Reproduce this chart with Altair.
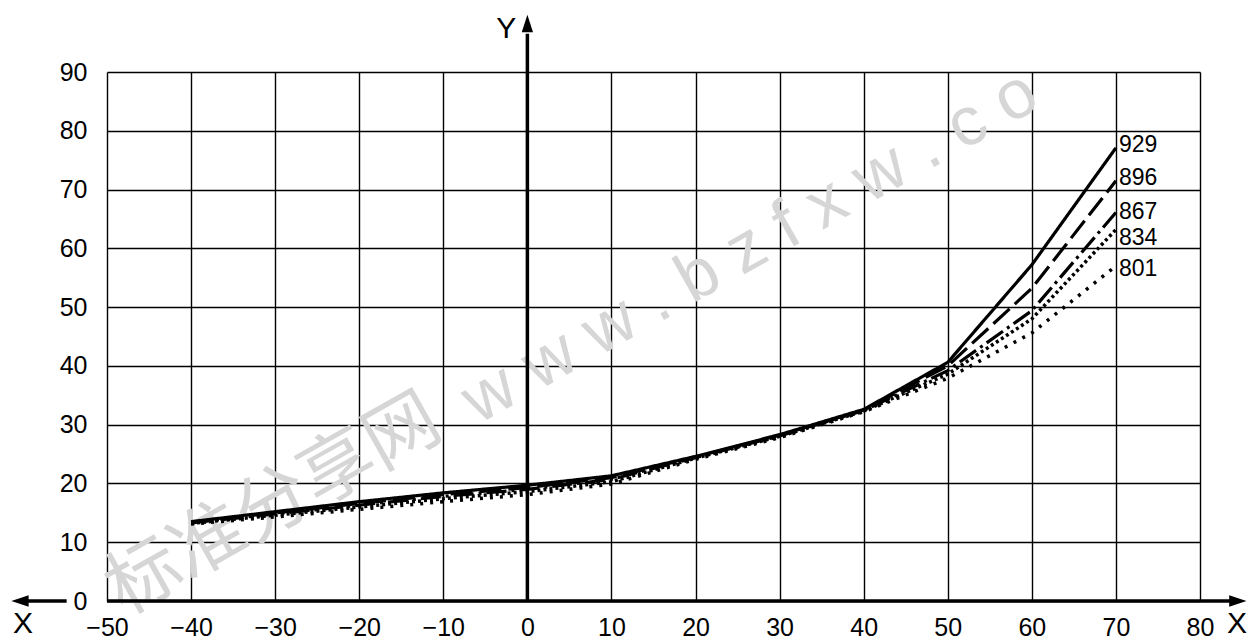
import altair as alt
import pandas as pd

# ---- data ----
x_vals = [-40, -30, -20, -10, 0, 10, 20, 30, 40, 50, 60, 70]
s929 = [13.5, 15.2, 16.9, 18.4, 19.7, 21.3, 24.6, 28.3, 32.6, 40.6, 57.2, 77.1]
s896 = [13.4, 15.0, 16.6, 18.1, 19.3, 21.0, 24.5, 28.2, 32.5, 40.0, 53.2, 71.5]
s867 = [13.3, 14.8, 16.3, 17.8, 19.0, 20.7, 24.4, 28.1, 32.4, 39.2, 49.4, 66.1]
s834 = [13.2, 14.6, 16.0, 17.4, 18.6, 20.3, 24.3, 28.0, 32.3, 38.6, 48.0, 63.2]
s801 = [13.1, 14.3, 15.6, 16.9, 18.1, 19.9, 24.1, 27.8, 32.2, 37.9, 45.6, 57.0]
series_names = ["929", "896", "867", "834", "801"]
series_vals = [s929, s896, s867, s834, s801]
label_y = [77.6, 71.9, 66.1, 61.8, 56.5]
dashes = [[1, 0], [22, 7], [20, 5, 3, 5], [3, 3], [3, 7]]
widths = [3.2, 3.2, 3.2, 3.5, 3.5]

x_ticks = list(range(-50, 81, 10))
y_ticks = list(range(0, 91, 10))

# axis/arrow extents (data units)
x_axis_extent = [-50, 83.6]
x_axis_left = [-59.5, -54.8]
y_axis_extent = [0, 96.5]
arrows = pd.DataFrame({
    "x": [84.5, -60.35, 0],
    "y": [0, 0, 98.25],
    "shape": ["M-1,-0.65L1,0L-1,0.65Z", "M1,-0.65L-1,0L1,0.65Z", "M-0.65,1L0,-1L0.65,1Z"],
})
axis_letters = pd.DataFrame({"x": [-60.0, 84.4, -2.5], "y": [-3.9, -3.9, 97.3], "t": ["X", "X", "Y"]})

wm_cn = "标准分享网"
wm_en = "w w w . b z f x w . c o"

FONT = "Liberation Sans"

rows = []
for n, vals in zip(series_names, series_vals):
    for xv, yv in zip(x_vals, vals):
        rows.append({"x": xv, "y": yv, "s": n})
df = pd.DataFrame(rows)

xs = alt.Scale(domain=[-50, 80], nice=False, zero=False)
ys = alt.Scale(domain=[0, 90], nice=False, zero=False)

xax = alt.Axis(values=x_ticks, grid=True, gridColor="black", gridOpacity=1, gridWidth=1.4,
               domain=False, ticks=False, labelFontSize=25, labelFont=FONT, labelColor="black",
               labelPadding=14, title=None, labelFlush=False)
yax = alt.Axis(values=y_ticks, grid=True, gridColor="black", gridOpacity=1, gridWidth=1.4,
               domain=False, ticks=False, labelFontSize=25, labelFont=FONT, labelColor="black",
               labelPadding=20, title=None)

wm1 = alt.Chart(pd.DataFrame({"t": [wm_cn]})).mark_text(
    angle=330.5, fontSize=74, color="#d6d6d6", font="Noto Sans CJK SC", align="center", baseline="middle"
).encode(x=alt.value(167), y=alt.value(434), text="t:N")
wm2 = alt.Chart(pd.DataFrame({"t": [wm_en]})).mark_text(
    angle=330.5, fontSize=69, color="#d6d6d6", font=FONT, align="center", baseline="middle"
).encode(x=alt.value(643), y=alt.value(175), text="t:N")

base = alt.Chart(df).mark_point(opacity=0).encode(
    x=alt.X("x:Q", scale=xs, axis=xax), y=alt.Y("y:Q", scale=ys, axis=yax))

layers = [wm1, wm2, base]

for n, d, w in zip(series_names, dashes, widths):
    layers.append(alt.Chart(df[df.s == n]).mark_line(color="black", strokeWidth=w, strokeDash=d).encode(
        x=alt.X("x:Q", scale=xs), y=alt.Y("y:Q", scale=ys)))

lab = pd.DataFrame({"x": [70] * 5, "y": label_y, "t": series_names})
layers.append(alt.Chart(lab).mark_text(align="left", baseline="middle", dx=3, fontSize=23, font=FONT,
                                       color="black").encode(x=alt.X("x:Q", scale=xs), y=alt.Y("y:Q", scale=ys), text="t:N"))

# axes lines
layers.append(alt.Chart(pd.DataFrame({"x": [x_axis_extent[0]], "x2": [x_axis_extent[1]], "y": [0]})).mark_rule(
    color="black", strokeWidth=3.5).encode(x=alt.X("x:Q", scale=xs), x2="x2:Q", y=alt.Y("y:Q", scale=ys)))
layers.append(alt.Chart(pd.DataFrame({"x": [x_axis_left[0]], "x2": [x_axis_left[1]], "y": [0]})).mark_rule(
    color="black", strokeWidth=3.5).encode(x=alt.X("x:Q", scale=xs), x2="x2:Q", y=alt.Y("y:Q", scale=ys)))
layers.append(alt.Chart(pd.DataFrame({"x": [0], "y": [y_axis_extent[0]], "y2": [y_axis_extent[1]]})).mark_rule(
    color="black", strokeWidth=3.5).encode(x=alt.X("x:Q", scale=xs), y=alt.Y("y:Q", scale=ys), y2="y2:Q"))

for _, r in arrows.iterrows():
    layers.append(alt.Chart(pd.DataFrame([r])).mark_point(shape=r["shape"], filled=True, color="black",
                                                          size=300, opacity=1, strokeWidth=0).encode(
        x=alt.X("x:Q", scale=xs), y=alt.Y("y:Q", scale=ys)))

layers.append(alt.Chart(axis_letters).mark_text(align="center", baseline="middle", fontSize=30, font=FONT,
                                                color="black").encode(
    x=alt.X("x:Q", scale=xs), y=alt.Y("y:Q", scale=ys), text="t:N"))

chart = alt.layer(*layers).properties(
    width=1093, height=529,
    autosize=alt.AutoSizeParams(type="none"),
    padding={"left": 99, "top": 64, "right": 47, "bottom": 39},
    background="white",
).configure_view(stroke=None)

chart.save("out.html", embed_options={"renderer": "svg", "actions": False})
